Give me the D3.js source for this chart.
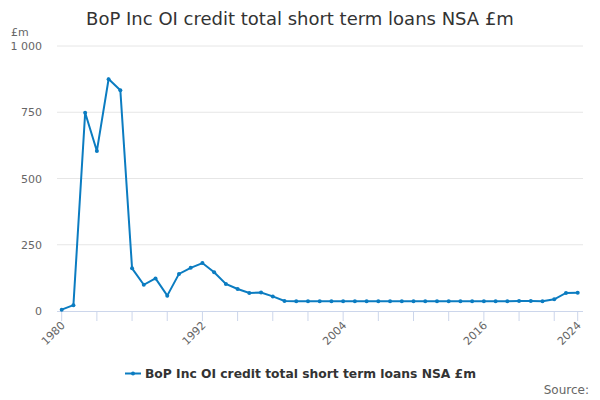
<!DOCTYPE html>
<html><head><meta charset="utf-8">
<script src="https://cdn.jsdelivr.net/npm/d3@7"></script>
<style>body{margin:0;background:#fff;font-family:"DejaVu Sans",sans-serif}</style>
</head><body><svg id="c" width="600" height="400"></svg>
<script>
const years = d3.range(1980, 2025);
const values = [5,22,748,604,875,833,161,99,123,58,140,163,181,146,102,83,68,70,55,38,
  37,37,37,37,37,37,37,37,37,37,37,37,37,37,37,37,37,37,37,38,38,37,44,68,69];
const yTicks = [0,250,500,750,1000];
const xLabelYears = [1980,1992,2004,2016,2024];
const seriesName = "BoP Inc OI credit total short term loans NSA £m";
const color = "#0b7cc1";

const svg = d3.select("#c");
const plotL = 57, plotR = 583, plotT = 46, plotB = 311;
const x = d3.scaleLinear().domain([1980,2024]).range([61.7,577.7]);
const y = d3.scaleLinear().domain([0,1000]).range([plotB,plotT]);
const fmt = v => d3.format(",")(v).replace(/,/g," ");

svg.append("text").attr("x",300).attr("y",25).attr("text-anchor","middle")
  .attr("font-size",18).attr("fill","#333").text(seriesName);
svg.append("text").attr("x",11).attr("y",36).attr("font-size",11).attr("fill","#666").text("£m");

const yg = svg.append("g");
yTicks.forEach(t=>{
  if(t>0) yg.append("line").attr("x1",plotL).attr("x2",plotR).attr("y1",y(t)).attr("y2",y(t)).attr("stroke","#e6e6e6");
  yg.append("text").attr("x",42).attr("y",y(t)+4).attr("text-anchor","end").attr("font-size",11).attr("fill","#666").text(fmt(t));
});

const xTicks = d3.range(1980,2023,3).concat([2024]);
const xg = svg.append("g");
xg.append("line").attr("x1",plotL).attr("x2",plotR).attr("y1",plotB+0.5).attr("y2",plotB+0.5).attr("stroke","#ccd6eb");
xTicks.forEach(t=>{
  xg.append("line").attr("x1",x(t)).attr("x2",x(t)).attr("y1",plotB).attr("y2",plotB+10).attr("stroke","#ccd6eb");
});
xLabelYears.forEach(t=>{
  xg.append("text").attr("transform",`translate(${x(t)+4},${plotB+15}) rotate(-45)`)
    .attr("text-anchor","end").attr("font-size",11).attr("fill","#666").text(t);
});

const data = years.map((yr,i)=>({yr,v:values[i]}));
const line = d3.line().x(d=>x(d.yr)).y(d=>y(d.v));
svg.append("path").datum(data).attr("d",line).attr("fill","none").attr("stroke",color).attr("stroke-width",2);
svg.append("g").selectAll("circle").data(data).join("circle")
  .attr("cx",d=>x(d.yr)).attr("cy",d=>y(d.v)).attr("r",2).attr("fill",color);

// legend
const lg = svg.append("g");
lg.append("text").attr("x",145).attr("y",378).attr("font-size",12.3).attr("font-weight","bold").attr("fill","#333").text(seriesName);
lg.append("line").attr("x1",125).attr("x2",141).attr("y1",373.5).attr("y2",373.5).attr("stroke",color).attr("stroke-width",2);
lg.append("circle").attr("cx",133).attr("cy",373.5).attr("r",2).attr("fill",color);

svg.append("text").attr("x",589).attr("y",394).attr("text-anchor","end").attr("font-size",12).attr("fill","#666").text("Source:");
</script></body></html>
